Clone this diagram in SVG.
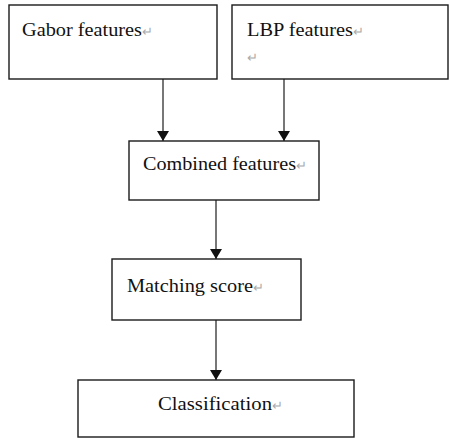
<svg xmlns="http://www.w3.org/2000/svg" width="450" height="439" viewBox="0 0 450 439">
<style>
.box{fill:#fff;stroke:#1a1a1a;stroke-width:1.4}
.lbl{font-family:"Liberation Serif","Times New Roman",serif;font-size:18px;fill:#111}
.ret{fill:#aaa;font-size:13px}
.con{stroke:#555;stroke-width:1.6;fill:none;marker-end:url(#ah)}
</style>
<defs>
<marker id="ah" viewBox="0 0 10 12" refX="10" refY="6" markerWidth="10" markerHeight="12" markerUnits="userSpaceOnUse" orient="auto">
<path d="M0,0 L10,6 L0,12 Z" fill="#111"/>
</marker>
</defs>
<rect width="450" height="439" fill="#fff"/>
<g id="connectors">
<line class="con" x1="163" y1="79" x2="163" y2="141"/>
<line class="con" x1="284" y1="79" x2="284" y2="141"/>
<line class="con" x1="216" y1="200" x2="216" y2="259"/>
<line class="con" x1="216" y1="320" x2="216" y2="380"/>
</g>
<g id="gabor">
<rect class="box" x="9" y="5" width="208" height="74"/>
<text class="lbl" x="22" y="36"><tspan textLength="120" lengthAdjust="spacingAndGlyphs">Gabor features</tspan><tspan class="ret">↵</tspan></text>
</g>
<g id="lbp">
<rect class="box" x="232" y="5" width="216" height="74"/>
<text class="lbl" x="247" y="36"><tspan textLength="106" lengthAdjust="spacingAndGlyphs">LBP features</tspan><tspan class="ret">↵</tspan></text>
<text class="lbl ret" x="247" y="62">↵</text>
</g>
<g id="combined">
<rect class="box" x="129" y="141" width="190" height="59"/>
<text class="lbl" x="143" y="170"><tspan textLength="153" lengthAdjust="spacingAndGlyphs">Combined features</tspan><tspan class="ret">↵</tspan></text>
</g>
<g id="matching">
<rect class="box" x="112" y="259" width="189" height="61"/>
<text class="lbl" x="127" y="292"><tspan textLength="126" lengthAdjust="spacingAndGlyphs">Matching score</tspan><tspan class="ret">↵</tspan></text>
</g>
<g id="classification">
<rect class="box" x="78" y="380" width="276" height="57"/>
<text class="lbl" x="158" y="410"><tspan textLength="114" lengthAdjust="spacingAndGlyphs">Classification</tspan><tspan class="ret">↵</tspan></text>
</g>
</svg>
